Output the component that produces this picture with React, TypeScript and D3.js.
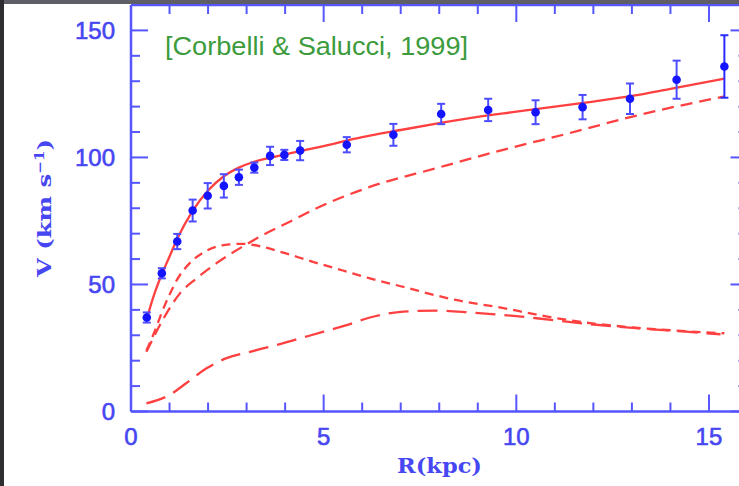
import React from "react";
import * as d3 from "d3";

// Observed rotation velocities with 1-sigma errors
const obsR = [0.41, 0.8, 1.2, 1.6, 1.99, 2.41, 2.8, 3.2, 3.61, 3.98, 4.39, 5.6, 6.81, 8.05, 9.27, 10.5, 11.72, 12.95, 14.16, 15.4];
const obsV = [37, 54.4, 66.9, 79.1, 84.9, 88.8, 92.2, 96.0, 100.6, 101.0, 102.7, 105.0, 108.9, 117.1, 118.7, 117.8, 119.8, 123.1, 130.6, 135.8];
const obsErr = [2, 2, 3, 4.3, 5, 4.6, 3, 2, 3.6, 2, 3.8, 3, 4.3, 4, 4.4, 4.7, 4.8, 6, 7.5, 12.3];

// Model components
const totalR = [0.4, 0.6, 0.8, 1.0, 1.2, 1.6, 2.0, 2.4, 2.8, 3.2, 3.6, 4.0, 5.0, 6.0, 7.0, 8.0, 9.0, 10.0, 11.0, 12.0, 13.0, 14.0, 15.4];
const totalV = [36, 46, 54, 61, 68, 79, 87, 92.5, 96, 98.3, 99.8, 101.2, 104.5, 108, 110.8, 113.5, 116, 118, 120, 122, 124.2, 127, 131];

const diskR = [0.4, 0.6, 0.8, 1.0, 1.2, 1.5, 1.9, 2.4, 2.9, 3.5, 4.0, 4.7, 5.5, 6.2, 7.0, 8.4, 9.7, 10.5, 11.8, 13.1, 14.4, 15.4];
const diskV = [24, 31, 39, 46, 52, 58, 62.8, 65.5, 66, 64.5, 62.3, 59, 55.5, 52.4, 49.3, 44, 40.6, 38.2, 35, 33, 31.6, 30.8];

const haloR = [0.4, 0.84, 1.27, 1.7, 2.22, 2.83, 3.43, 4.04, 4.9, 6.2, 7.93, 9.66, 11.39, 13.12, 15.4];
const haloV = [23.5, 36.5, 46.5, 52.4, 58.4, 64.3, 69.5, 74.1, 80.6, 88.4, 95.8, 103, 109.6, 116.5, 124];

const gasR = [0.4, 1.0, 1.43, 1.96, 2.48, 3.09, 3.78, 4.39, 5.0, 5.6, 6.2, 6.64, 7.07, 7.93, 8.8, 9.66, 10.53, 11.83, 13.1, 14.4, 15.3];
const gasV = [3.2, 6.5, 11.1, 17, 21, 23.5, 26.2, 28.8, 31.4, 34, 37, 38.5, 39.3, 39.7, 39, 38, 36.7, 34.5, 32.8, 31.4, 30.4];

// Axis ticks
const xMajor = [0, 5, 10, 15];
const yMajor = [0, 50, 100, 150];
const xMinor = d3.range(0, 17, 1);
const yMinor = d3.range(0, 161, 10);

const W = 739;
const H = 486;
const AXIS = "#5656ff";
const LABEL = "#4646f2";
const RED = "#ff4040";

export default function App() {
  const x = d3.scaleLinear().domain([0, 16]).range([131, 747.5]);
  const y = d3.scaleLinear().domain([0, 160]).range([411.5, 5]);
  const line = d3
    .line<[number, number]>()
    .x((d) => x(d[0]))
    .y((d) => y(d[1]))
    .curve(d3.curveMonotoneX);
  const pts = (rs: number[], vs: number[]) => rs.map((r, i) => [r, vs[i]] as [number, number]);

  const left = x(0);
  const right = x(16);
  const top = y(160);
  const bottom = y(0);

  return (
    <svg width={W} height={H} style={{ position: "absolute", left: 0, top: 0, background: "#fff" }}>
      <rect x={0} y={0} width={W} height={H} fill="#fff" />
      {/* frame */}
      <g stroke={AXIS} strokeWidth={2.5} fill="none">
        <line x1={left} y1={top} x2={left} y2={bottom} />
        <line x1={left} y1={bottom} x2={right} y2={bottom} />
        <line x1={left} y1={top} x2={right} y2={top} />
        <line x1={right} y1={top} x2={right} y2={bottom} />
      </g>
      {/* ticks on all four sides */}
      <g stroke={AXIS} strokeWidth={2}>
        {xMinor.map((t) => {
          const len = t % 5 === 0 ? 17 : 9;
          return (
            <g key={"xt" + t}>
              <line x1={x(t)} x2={x(t)} y1={bottom} y2={bottom - len} />
              <line x1={x(t)} x2={x(t)} y1={top} y2={top + len} />
            </g>
          );
        })}
        {yMinor.map((t) => {
          const len = t % 50 === 0 ? 17 : 9;
          return (
            <g key={"yt" + t}>
              <line x1={left} x2={left + len} y1={y(t)} y2={y(t)} />
              <line x1={right} x2={right - len} y1={y(t)} y2={y(t)} />
            </g>
          );
        })}
      </g>
      {/* tick labels */}
      <g
        fill={LABEL}
        stroke={LABEL}
        strokeWidth={0.6}
        fontFamily="Liberation Sans, Arial, sans-serif"
        fontSize={24}
      >
        {yMajor.map((t) => (
          <text key={"yl" + t} x={115} y={y(t) + 8.5} textAnchor="end">
            {t}
          </text>
        ))}
        {xMajor.map((t) => (
          <text key={"xl" + t} x={x(t)} y={445} textAnchor="middle">
            {t}
          </text>
        ))}
      </g>
      {/* axis titles */}
      <text
        x={397}
        y={473}
        fill={LABEL}
        fontFamily="DejaVu Serif, serif"
        fontWeight="bold"
        fontSize={20}
        textLength={85}
        lengthAdjust="spacingAndGlyphs"
      >
        R(kpc)
      </text>
      <text
        transform="translate(51,208) rotate(-90)"
        fill={LABEL}
        fontFamily="DejaVu Serif, serif"
        fontWeight="bold"
        fontSize={19}
        textAnchor="middle"
        textLength={138}
        lengthAdjust="spacingAndGlyphs"
      >
        V (km s<tspan dy={-7} fontSize={12}>−1</tspan>
        <tspan dy={7}>)</tspan>
      </text>
      <text
        x={165}
        y={55}
        fill="#3c9b3c"
        fontFamily="Liberation Sans, Arial, sans-serif"
        fontSize={26}
        textLength={303}
        lengthAdjust="spacingAndGlyphs"
      >
        [Corbelli &amp; Salucci, 1999]
      </text>
      {/* model curves */}
      <g fill="none" stroke={RED} strokeWidth={2.3}>
        <path d={line(pts(totalR, totalV)) || ""} />
        <path d={line(pts(diskR, diskV)) || ""} strokeDasharray="9,6" />
        <path d={line(pts(haloR, haloV)) || ""} strokeDasharray="12,7" />
        <path d={line(pts(gasR, gasV)) || ""} strokeDasharray="20,9" />
      </g>
      {/* data with error bars */}
      <g>
        {obsR.map((r, i) => {
          const cx = x(r);
          const y1 = y(obsV[i] - obsErr[i]);
          const y2 = y(obsV[i] + obsErr[i]);
          const col = i === obsR.length - 1 ? "#2a2aff" : "#4d4dff";
          return (
            <g key={"p" + i} stroke={col} strokeWidth={2}>
              <line x1={cx} x2={cx} y1={y1} y2={y2} />
              <line x1={cx - 4} x2={cx + 4} y1={y1} y2={y1} />
              <line x1={cx - 4} x2={cx + 4} y1={y2} y2={y2} />
              <circle cx={cx} cy={y(obsV[i])} r={4.3} fill="#1414ff" stroke="none" />
            </g>
          );
        })}
      </g>
      {/* dark edge of the surrounding window */}
      <rect x={0} y={0} width={W} height={4} fill="#5e5e66" />
      <rect x={0} y={0} width={4} height={H} fill="#2e2e30" />
    </svg>
  );
}
